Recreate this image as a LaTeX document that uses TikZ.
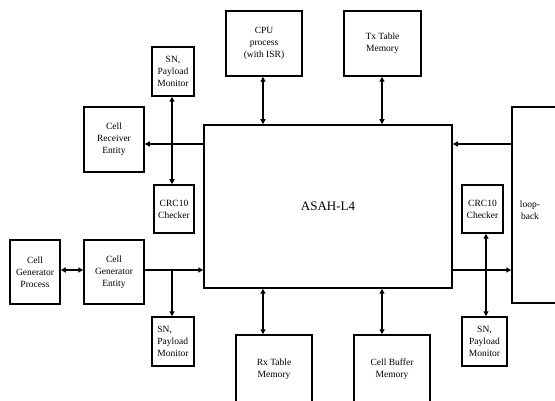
\documentclass[tikz,border=0pt]{standalone}
\usepackage{fontspec}
\setmainfont{Liberation Serif}
\usetikzlibrary{arrows.meta}
\tikzset{
  blk/.style={draw, line width=1.5pt, align=center, inner sep=1pt,
    font=\fontsize{9.5}{12}\selectfont},
  conn/.style={line width=1.5pt, -{Triangle[length=5pt,width=5pt]}},
  bconn/.style={line width=1.5pt, {Triangle[length=5pt,width=5pt]}-{Triangle[length=5pt,width=5pt]}}
}
\begin{document}
\begin{tikzpicture}[x=1pt,y=-1pt]
\useasboundingbox (0,0) rectangle (555,401);
\clip (0,0) rectangle (555,401);
% blocks
\node[blk, minimum width=42pt, minimum height=49pt] (snt) at (173,71.5) {SN,\\Payload\\Monitor};
\node[blk, minimum width=60pt, minimum height=65pt] (rec) at (114,139.5) {Cell\\Receiver\\Entity};
\node[blk, minimum width=76pt, minimum height=65pt] (cpu) at (264,43.5) {CPU\\process\\(with ISR)};
\node[blk, minimum width=77pt, minimum height=65pt] (tx) at (382.5,43.5) {Tx Table\\Memory};
\node[blk, minimum width=248pt, minimum height=163pt, font=\fontsize{13}{15}\selectfont] (asah) at (328,206.5) {ASAH-L4};
\node[blk, minimum width=64pt, minimum height=196pt] (loop) at (544,205) {};
\node[align=center, inner sep=0pt, font=\fontsize{9.5}{12}\selectfont] (looptxt) at (530,210) {loop-\\back};
\node[blk, minimum width=40pt, minimum height=48pt] (crcl) at (174,209) {CRC10\\Checker};
\node[blk, minimum width=41pt, minimum height=48pt] (crcr) at (482.5,209) {CRC10\\Checker};
\node[blk, minimum width=50pt, minimum height=64pt] (proc) at (35,272) {Cell\\Generator\\Process};
\node[blk, minimum width=60pt, minimum height=64pt] (gen) at (114,272) {Cell\\Generator\\Entity};
\node[blk, minimum width=42pt, minimum height=49pt, align=left] (snb) at (173,341.5) {SN,\\Payload\\Monitor};
\node[blk, minimum width=45pt, minimum height=49pt] (snr) at (484.5,341.5) {SN,\\Payload\\Monitor};
\node[blk, minimum width=76pt, minimum height=68pt] (rx) at (274,369) {Rx Table\\Memory};
\node[blk, minimum width=76pt, minimum height=68pt] (buf) at (392,369) {Cell Buffer\\Memory};
% reference coordinates
\coordinate (xa) at (263,0);
\coordinate (xb) at (382,0);
\coordinate (xl) at (172,0);
\coordinate (xr) at (486,0);
\coordinate (y1) at (0,144);
\coordinate (y2) at (0,270);
% connectors
\draw[bconn] (snt.south -| xl) -- (crcl.north -| xl);
\draw[conn] (asah.west |- y1) -- (rec.east |- y1);
\draw[conn] (loop.west |- y1) -- (asah.east |- y1);
\draw[conn] (gen.east |- y2) -- (asah.west |- y2);
\draw[conn] (xl |- y2) -- (snb.north -| xl);
\draw[conn] (asah.east |- y2) -- (loop.west |- y2);
\draw[bconn] (crcr.south -| xr) -- (snr.north -| xr);
\draw[bconn] (proc.east |- y2) -- (gen.west |- y2);
\draw[bconn] (cpu.south -| xa) -- (asah.north -| xa);
\draw[bconn] (tx.south -| xb) -- (asah.north -| xb);
\draw[bconn] (asah.south -| xa) -- (rx.north -| xa);
\draw[bconn] (asah.south -| xb) -- (buf.north -| xb);
\end{tikzpicture}
\end{document}
